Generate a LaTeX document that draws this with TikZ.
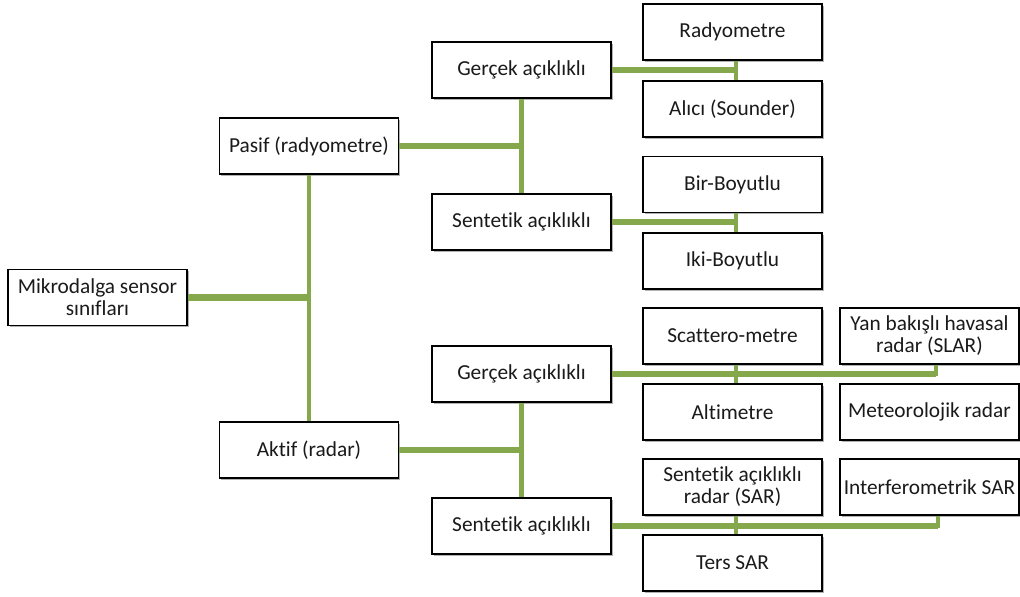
\documentclass[tikz,border=0pt]{standalone}
\usepackage{fontspec}
\setmainfont{Carlito}[Ligatures=NoCommon]
\usetikzlibrary{shadows}
\definecolor{branch}{HTML}{86A84C}
\definecolor{ink}{HTML}{1A1A1A}
\begin{document}
\begin{tikzpicture}[x=0.75pt,y=-0.75pt,
  box/.style={draw=black, line width=0.8pt, fill=white, text=ink,
    minimum width=134.25pt, minimum height=42pt, inner sep=0pt, align=center,
    font=\fontsize{16}{16.5}\selectfont,
    drop shadow={shadow xshift=1.2pt, shadow yshift=-1.2pt, opacity=0.3, fill=black}},
  hlink/.style={draw=branch, line width=4.6pt},
  vlink/.style={draw=branch, line width=3.4pt},
  rootlink/.style={draw=branch, line width=5.4pt}]
\useasboundingbox (0,0) rectangle (1020,596);

% root and first level
\node[box] (mik)   at (97.5,297.5) {Mikrodalga sensor\\sınıfları};
\node[box] (pasif) at (309,146) {Pasif (radyometre)};
\node[box] (aktif) at (309,450) {Aktif (radar)};

% second level
\node[box] (g1) at (521.5,70)  {Gerçek açıklıklı};
\node[box] (s1) at (521.5,222) {Sentetik açıklıklı};
\node[box] (g2) at (521.5,374) {Gerçek açıklıklı};
\node[box] (s2) at (521.5,526) {Sentetik açıklıklı};

% third level
\node[box] (rad)   at (732.5,32)    {Radyometre};
\node[box] (alici) at (732.5,109)   {Alıcı (Sounder)};
\node[box] (bir)   at (732.5,184.5) {Bir-Boyutlu};
\node[box] (iki)   at (732.5,261)   {Iki-Boyutlu};
\node[box] (scat)  at (732.5,336)   {Scattero-metre};
\node[box] (alt)   at (732.5,412)   {Altimetre};
\node[box] (slar)  at (929.5,336)   {Yan bakışlı havasal\\radar (SLAR)};
\node[box] (met)   at (929.5,412)   {Meteorolojik radar};
\node[box] (sar)   at (732.5,487)   {Sentetik açıklıklı\\radar (SAR)};
\node[box] (ters)  at (732.5,563)   {Ters SAR};
\node[box] (ifsar) at (929.5,487)   {Interferometrik SAR};

% connectors
\path[rootlink] (mik.east) -- (mik.east -| pasif.south);
\path[vlink] (pasif.south) -- (aktif.north);

\path[hlink] (pasif.east) -- (pasif.east -| g1.south);
\path[vlink] (g1.south) -- (s1.north);
\path[hlink] (aktif.east) -- (aktif.east -| g2.south);
\path[vlink] (g2.south) -- (s2.north);

\path[hlink] (g1.east) -- ([xshift=2.6pt]g1.east -| rad.south);
\path[vlink] ([xshift=2.6pt]rad.south) -- ([xshift=2.6pt]alici.north);
\path[hlink] (s1.east) -- ([xshift=2.6pt]s1.east -| bir.south);
\path[vlink] ([xshift=2.6pt]bir.south) -- ([xshift=2.6pt]iki.north);

\path[hlink] (g2.east) -- ([xshift=5pt]g2.east -| slar.south);
\path[vlink] ([xshift=2.6pt]scat.south) -- ([xshift=2.6pt]alt.north);
\path[vlink] ([xshift=5pt]slar.south) -- ([xshift=5pt,yshift=-1.7pt]slar.south |- g2.east);

\path[hlink] (s2.east) -- ([xshift=6.4pt]s2.east -| ifsar.south);
\path[vlink] ([xshift=2.6pt]sar.south) -- ([xshift=2.6pt]ters.north);
\path[vlink] ([xshift=6.4pt]ifsar.south) -- ([xshift=6.4pt,yshift=-1.7pt]ifsar.south |- s2.east);
\end{tikzpicture}
\end{document}
